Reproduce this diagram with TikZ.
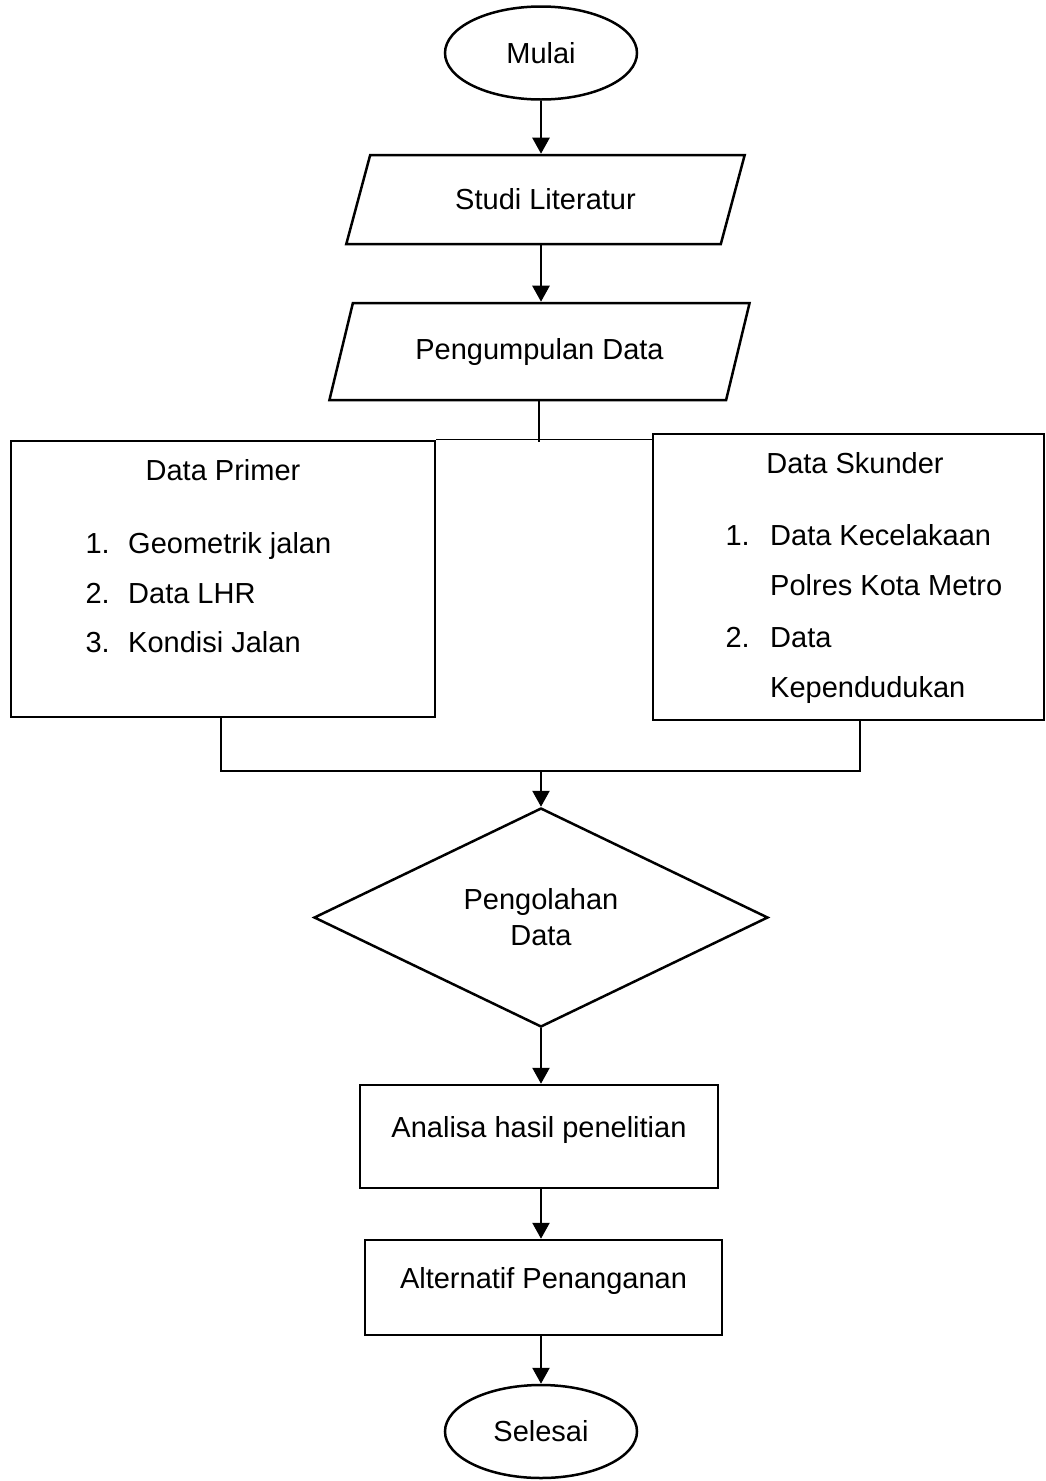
\documentclass[tikz,border=0pt]{standalone}
\usepackage{fontspec}
\setmainfont{Liberation Sans}
\usetikzlibrary{arrows.meta,positioning,calc,shapes.geometric}
\tikzset{
  >={Triangle[length=16pt,width=17pt]},
  every node/.style={font=\fontsize{29}{36}\selectfont,text=black},
  term/.style={draw,ellipse,line width=2.5pt,minimum width=192pt,minimum height=93pt,inner sep=0pt},
  iobox/.style={draw,trapezium,trapezium left angle=60,trapezium right angle=120,trapezium stretches=true,line width=2.5pt,inner sep=0pt},
  databox/.style={draw,rectangle,line width=2.7pt,inner sep=0pt},
  procbox/.style={draw,rectangle,line width=2.5pt,text height=21pt,text depth=19pt,inner sep=0pt},
  decision/.style={draw,diamond,aspect=2,line width=2.5pt,inner sep=0pt,align=center},
  arrow/.style={->,line width=2.5pt},
  joint/.style={line width=1.4pt},
  itemtext/.style={anchor=base west,inner sep=0pt},
  itemnum/.style={anchor=base east,inner sep=0pt},
}

\begin{document}
\begin{tikzpicture}[x=1pt,y=-1pt]
\useasboundingbox (0,0) rectangle (1046,1481);

% --- main column
\node[term] (mulai) at (541,53) {Mulai};
\node[iobox,minimum width=399pt,minimum height=89pt] (studi) at (545.5,199.5) {Studi Literatur};
\node[iobox,minimum width=421pt,minimum height=97pt] (kumpul) at (539.5,351.5) {Pengumpulan Data};

% --- data boxes
\node[databox,minimum width=424pt,minimum height=276pt] (primer) at (223,579) {};
\node[databox,minimum width=391pt,minimum height=286pt] (skunder) at (848.5,577) {};

\node[anchor=base,inner sep=0pt] (primerT) at (223,480) {Data Primer};
\node[itemnum] (p1) at (110,553) {1.};
\node[itemtext] (p1t) at (128,553) {Geometrik jalan};
\node[itemnum] (p2) at (110,603) {2.};
\node[itemtext] (p2t) at (128,603) {Data LHR};
\node[itemnum] (p3) at (110,652) {3.};
\node[itemtext] (p3t) at (128,652) {Kondisi Jalan};

\node[anchor=base,inner sep=0pt] (skunderT) at (855,473) {Data Skunder};
\node[itemnum] (s1) at (750,545) {1.};
\node[itemtext] (s1t) at (770,545) {Data Kecelakaan};
\node[itemtext] (s1u) at (770,595) {Polres Kota Metro};
\node[itemnum] (s2) at (750,647) {2.};
\node[itemtext] (s2t) at (770,647) {Data};
\node[itemtext] (s2u) at (770,697) {Kependudukan};

\node[decision,minimum width=454pt,minimum height=219pt] (olah) at (541,917.5) {Pengolahan\\Data};
\node[procbox,minimum width=358pt,minimum height=103pt] (analisa) at (539,1136.5) {Analisa hasil penelitian};
\node[procbox,minimum width=357pt,minimum height=95pt] (alt) at (543.5,1287.5) {Alternatif Penanganan};
\node[term] (selesai) at (541,1431.5) {Selesai};

% --- joints
\coordinate (split) at (539,442);
\coordinate (jl) at (221,771);
\coordinate (jr) at (860,771);
\coordinate (join) at (541,771);

\draw[arrow] (mulai.south) -- (mulai.south |- studi.north);
\draw[arrow] (mulai.south |- studi.south) -- (mulai.south |- kumpul.north);
\draw[joint] (split |- kumpul.south) -- (split);
\draw[joint] (primer.north east) -- (primer.north east -| skunder.west);
\draw[joint] (jl |- primer.south) -- (jl) -- (jr) -- (jr |- skunder.south);
\draw[arrow] (join) -- (olah.north);
\draw[arrow] (olah.south) -- (olah.south |- analisa.north);
\draw[arrow] (olah.south |- analisa.south) -- (olah.south |- alt.north);
\draw[arrow] (olah.south |- alt.south) -- (selesai.north);

\end{tikzpicture}
\end{document}
